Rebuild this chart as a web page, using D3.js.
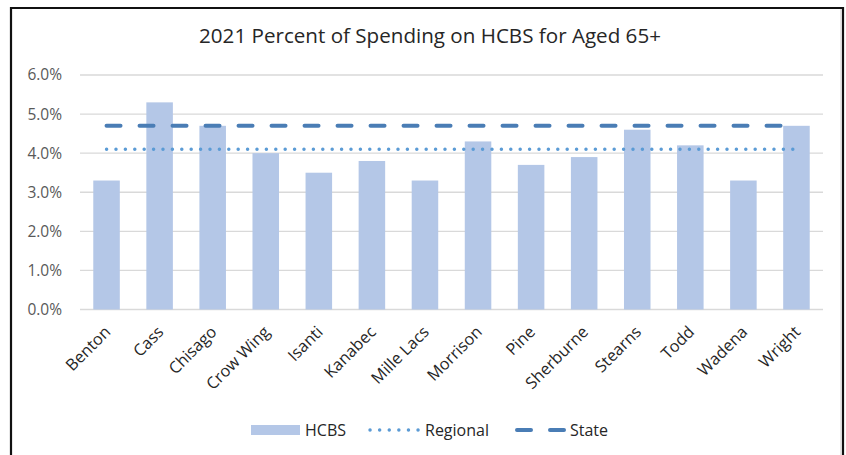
<!DOCTYPE html>
<html><head><meta charset="utf-8">
<script src="https://cdn.jsdelivr.net/npm/d3@7"></script>
<style>body{margin:0;background:#fff;} text{font-family:"Open Sans",sans-serif;}</style>
</head><body>
<svg id="chart" width="846" height="455"></svg>
<script>
const categories = ["Benton","Cass","Chisago","Crow Wing","Isanti","Kanabec","Mille Lacs","Morrison","Pine","Sherburne","Stearns","Todd","Wadena","Wright"];
const hcbs = [3.3,5.3,4.7,4.0,3.5,3.8,3.3,4.3,3.7,3.9,4.6,4.2,3.3,4.7];
const regional = 4.1;
const state = 4.7;
const yTicks = [0,1,2,3,4,5,6];
const title = "2021 Percent of Spending on HCBS for Aged 65+";
const legendLabels = ["HCBS","Regional","State"];

const svg = d3.select("#chart");
// border
svg.append("path").attr("d","M11,455 V8 H843 V455").attr("fill","none").attr("stroke","#111").attr("stroke-width",2.2);
svg.append("line").attr("x1",841).attr("x2",841).attr("y1",9).attr("y2",455).attr("stroke","#ccc").attr("stroke-width",1);

const x = d3.scaleBand().domain(categories).range([80,823]).paddingInner(0.5).paddingOuter(0.25);
const y = d3.scaleLinear().domain([0,6]).range([309.5,75]);

// gridlines
svg.append("g").selectAll("line").data(yTicks).join("line")
  .attr("x1",80).attr("x2",823).attr("y1",d=>y(d)).attr("y2",d=>y(d))
  .attr("stroke","#d9d9d9").attr("stroke-width",1.3);

// y labels
svg.append("g").selectAll("text").data(yTicks).join("text")
  .attr("x",62).attr("y",d=>y(d)).attr("dy","0.35em").attr("text-anchor","end")
  .attr("font-size",15.5).attr("fill","#595959").text(d=>d.toFixed(1)+"%");

// bars
svg.append("g").selectAll("rect").data(hcbs).join("rect")
  .attr("x",(d,i)=>x(categories[i])).attr("width",x.bandwidth())
  .attr("y",d=>y(d)).attr("height",d=>y(0)-y(d)).attr("fill","#b4c7e7");

// lines
const first = x(categories[0])+x.bandwidth()/2, last = x(categories[categories.length-1])+x.bandwidth()/2;
svg.append("line").attr("x1",first).attr("x2",last).attr("y1",y(state)).attr("y2",y(state))
  .attr("stroke","#4a7db5").attr("stroke-width",4).attr("stroke-linecap","round").attr("stroke-dasharray","14,19");
svg.append("line").attr("x1",first).attr("x2",last).attr("y1",y(regional)).attr("y2",y(regional))
  .attr("stroke","#5b9bd5").attr("stroke-width",3.4).attr("stroke-linecap","round").attr("stroke-dasharray","0.1,9.3");

// x labels
svg.append("g").selectAll("text").data(categories).join("text")
  .attr("transform",d=>`translate(${x(d)+x.bandwidth()/2+5},${333}) rotate(-45)`)
  .attr("text-anchor","end").attr("font-size",16.3).attr("fill","#262626").text(d=>d);

// title
svg.append("text").attr("x",430).attr("y",43).attr("text-anchor","middle")
  .attr("font-size",20.6).attr("fill","#262626").text(title);

// legend
const lg = svg.append("g");
lg.append("rect").attr("x",251).attr("y",425).attr("width",49).attr("height",10).attr("fill","#b4c7e7");
lg.append("text").attr("x",305).attr("y",430).attr("dy","0.35em").attr("font-size",16).attr("fill","#262626").text(legendLabels[0]);
lg.append("line").attr("x1",370).attr("x2",419).attr("y1",430).attr("y2",430)
  .attr("stroke","#5b9bd5").attr("stroke-width",3.4).attr("stroke-linecap","round").attr("stroke-dasharray","0.1,9.5");
lg.append("text").attr("x",425).attr("y",430).attr("dy","0.35em").attr("font-size",16).attr("fill","#262626").text(legendLabels[1]);
lg.append("line").attr("x1",517).attr("x2",564).attr("y1",430).attr("y2",430)
  .attr("stroke","#4a7db5").attr("stroke-width",4).attr("stroke-linecap","round").attr("stroke-dasharray","14,19");
lg.append("text").attr("x",570).attr("y",430).attr("dy","0.35em").attr("font-size",16).attr("fill","#262626").text(legendLabels[2]);
</script>
</body></html>
